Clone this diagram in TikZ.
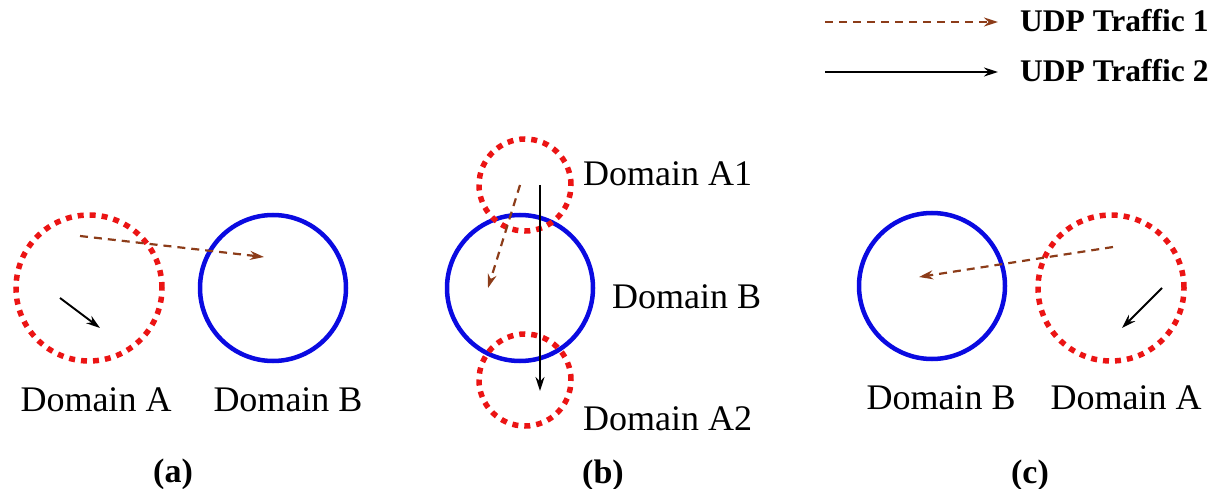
\documentclass[tikz,border=0pt]{standalone}
\usepackage{fontspec}
\setmainfont{Liberation Serif}
\usetikzlibrary{arrows.meta}
\definecolor{dred}{RGB}{235,20,20}
\definecolor{dblue}{RGB}{10,10,225}
\definecolor{dbrown}{RGB}{140,60,25}
\begin{document}
\begin{tikzpicture}[x=1pt,y=-1pt,
  domB/.style={circle,draw=dblue,line width=4.5pt,inner sep=0pt,minimum size=146pt},
  domA/.style={circle,draw=dred,line width=5.5pt,dash pattern=on 6pt off 6pt,inner sep=0pt,minimum size=#1},
  domA/.default=146pt,
  lbl/.style={font=\fontsize{36}{40}\selectfont,inner sep=0pt},
  captxt/.style={font=\fontsize{34}{38}\selectfont\bfseries,inner sep=0pt},
  leg/.style={font=\fontsize{31.5}{34}\selectfont\bfseries,inner sep=0pt,anchor=west},
  t1/.style={draw=dbrown,line width=2.2pt,dash pattern=on 8pt off 6pt,-{Stealth[length=14pt,width=9pt]}},
  t2/.style={draw=black,line width=1.9pt,-{Stealth[length=14pt,width=9pt]}}]
\useasboundingbox (0,0) rectangle (1213,489);
% legend
\coordinate (l1s) at (825,22); \coordinate (l1e) at (998,22);
\coordinate (l2s) at (825,72); \coordinate (l2e) at (998,72);
\draw[t1] (l1s) -- (l1e);
\draw[t2] (l2s) -- (l2e);
\node[leg] (leg1) at (1020,21) {UDP Traffic 1};
\node[leg] (leg2) at (1020,71) {UDP Traffic 2};
% panel (a)
\node[domA] (aA) at (89,288) {};
\node[domB] (aB) at (273,288) {};
\coordinate (a1s) at (80,236); \coordinate (a1e) at (264,257);
\coordinate (a2s) at (60,298); \coordinate (a2e) at (100,328);
\draw[t1] (a1s) -- (a1e);
\draw[t2] (a2s) -- (a2e);
\node[lbl] (aAl) at (96,400) {Domain A};
\node[lbl] (aBl) at (288,400) {Domain B};
\node[captxt] (capa) at (173,474) {(a)};
% panel (b)
\node[domB] (bB) at (520,288) {};
\node[domA=92pt] (bA1) at (525,185) {};
\node[domA=92pt] (bA2) at (525,380) {};
\coordinate (b1s) at (520,185); \coordinate (b1e) at (488,288);
\coordinate (b2s) at (540,185); \coordinate (b2e) at (540,391);
\draw[t1] (b1s) -- (b1e);
\draw[t2] (b2s) -- (b2e);
\node[lbl,anchor=west] (bA1l) at (583,174) {Domain A1};
\node[lbl,anchor=west] (bBl) at (612,297) {Domain B};
\node[lbl,anchor=west] (bA2l) at (583,419) {Domain A2};
\node[captxt] (capb) at (603,475) {(b)};
% panel (c)
\node[domB] (cB) at (932,286) {};
\node[domA] (cA) at (1111,288) {};
\coordinate (c1s) at (1113,247); \coordinate (c1e) at (919,277);
\coordinate (c2s) at (1162,288); \coordinate (c2e) at (1122,328);
\draw[t1] (c1s) -- (c1e);
\draw[t2] (c2s) -- (c2e);
\node[lbl] (cBl) at (941,398) {Domain B};
\node[lbl] (cAl) at (1126,398) {Domain A};
\node[captxt] (capc) at (1030,475) {(c)};
\end{tikzpicture}
\end{document}
